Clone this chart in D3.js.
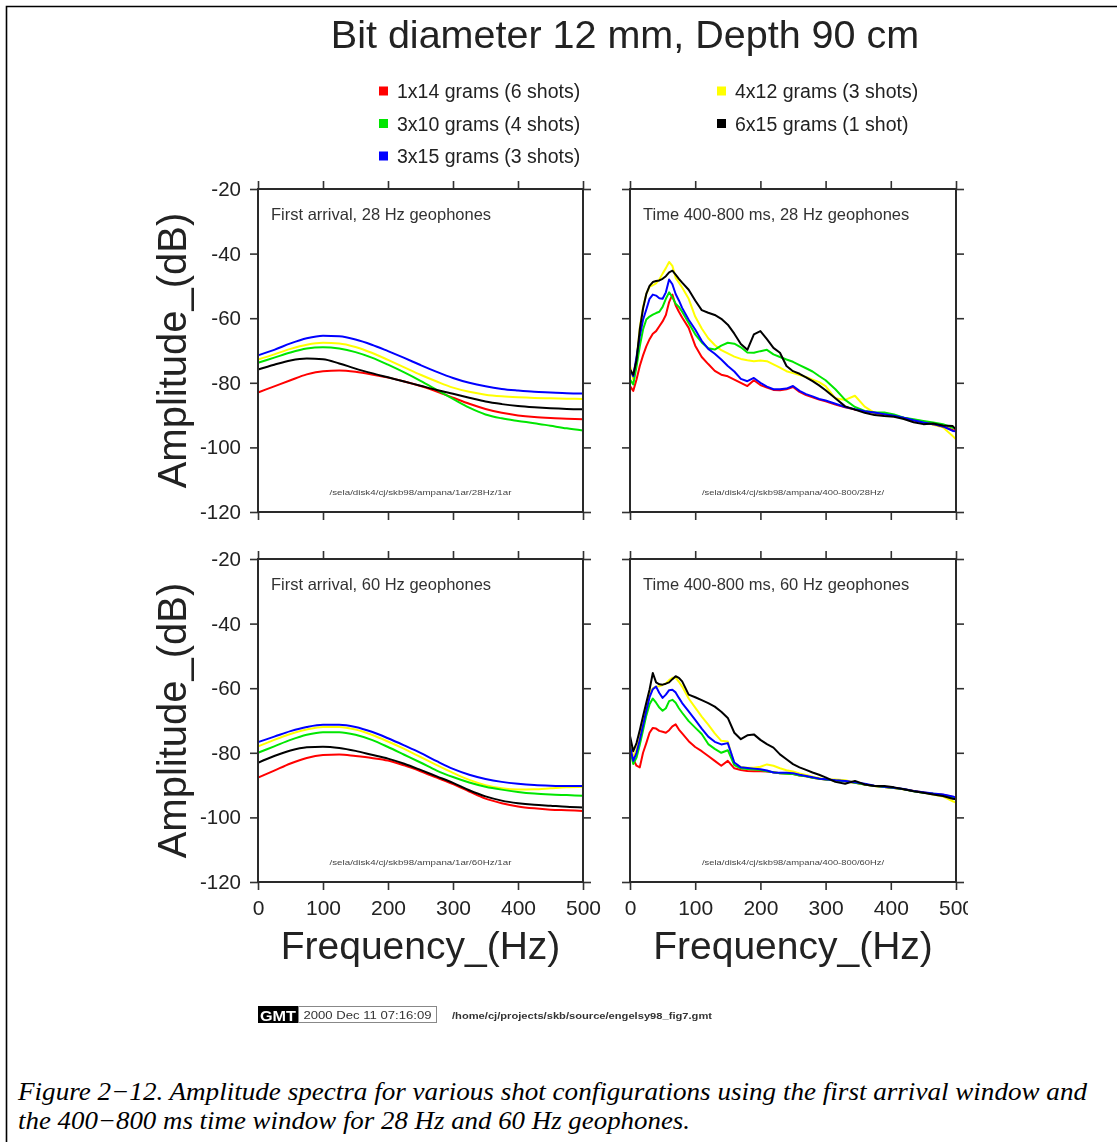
<!DOCTYPE html>
<html>
<head>
<meta charset="utf-8">
<script src="https://cdn.jsdelivr.net/npm/d3@7"></script>
<style>
  html, body { margin: 0; padding: 0; background: #fff; }
  svg { display: block; }
</style>
</head>
<body>
<script>
// ---- Data ---------------------------------------------------------------
const chartTitle = "Bit diameter 12 mm, Depth 90 cm";
const seriesLabels = ["1x14 grams (6 shots)", "3x10 grams (4 shots)", "3x15 grams (3 shots)", "4x12 grams (3 shots)", "6x15 grams (1 shot)"];
const seriesColors = ["#ff0000", "#00e600", "#0000ff", "#ffff00", "#000000"];

const xTicks = [0, 100, 200, 300, 400, 500];
const yTicks = [-120, -100, -80, -60, -40, -20];

const panelTitles = ["First arrival, 28 Hz geophones", "Time 400-800 ms, 28 Hz geophones",
                     "First arrival, 60 Hz geophones", "Time 400-800 ms, 60 Hz geophones"];
const panelPaths = ["/sela/disk4/cj/skb98/ampana/1ar/28Hz/1ar", "/sela/disk4/cj/skb98/ampana/400-800/28Hz/",
                    "/sela/disk4/cj/skb98/ampana/1ar/60Hz/1ar", "/sela/disk4/cj/skb98/ampana/400-800/60Hz/"];

// First-arrival window: smooth spectra sampled every 25 Hz
const smoothFreq = [0, 25, 50, 75, 100, 125, 150, 175, 200, 225, 250, 275, 300, 325, 350, 375, 400, 425, 450, 475, 500];

const fa28_1x14 = [-83.0, -81.1, -79.2, -77.4, -76.4, -76.2, -76.6, -77.4, -78.4, -79.6, -81.0, -82.7, -84.6, -86.5, -88.1, -89.3, -90.1, -90.6, -90.9, -91.1, -91.3];
const fa28_3x10 = [-73.8, -72.2, -70.6, -69.4, -69.0, -69.4, -70.5, -72.2, -74.4, -76.8, -79.4, -82.2, -85.0, -87.7, -89.8, -91.0, -91.8, -92.5, -93.3, -94.1, -94.8];
const fa28_3x15 = [-71.5, -69.8, -67.8, -66.2, -65.4, -65.6, -66.6, -68.2, -70.2, -72.3, -74.5, -76.6, -78.5, -80.0, -81.1, -81.9, -82.4, -82.8, -83.0, -83.2, -83.3];
const fa28_4x12 = [-72.8, -71.2, -69.5, -68.2, -67.6, -67.8, -68.9, -70.7, -72.9, -75.2, -77.5, -79.6, -81.5, -82.8, -83.7, -84.2, -84.5, -84.7, -84.8, -84.9, -85.0];
const fa28_6x15 = [-75.9, -74.4, -73.1, -72.5, -72.7, -74.0, -75.6, -77.0, -78.3, -79.6, -80.9, -82.2, -83.4, -84.6, -85.8, -86.6, -87.2, -87.6, -87.9, -88.1, -88.2];

const fa60_1x14 = [-87.7, -85.5, -83.3, -81.6, -80.7, -80.5, -81.0, -81.6, -82.4, -83.9, -85.7, -87.7, -89.7, -92.0, -94.2, -95.6, -96.6, -97.2, -97.6, -97.8, -98.0];
const fa60_3x10 = [-80.0, -78.0, -76.0, -74.4, -73.6, -73.6, -74.4, -76.0, -78.2, -80.6, -83.0, -85.5, -87.5, -89.2, -90.5, -91.4, -92.1, -92.6, -92.9, -93.1, -93.3];
const fa60_3x15 = [-76.7, -75.0, -73.3, -72.0, -71.3, -71.3, -72.0, -73.5, -75.5, -77.7, -80.0, -82.6, -85.0, -86.8, -88.1, -89.0, -89.6, -90.0, -90.2, -90.3, -90.3];
const fa60_4x12 = [-78.0, -76.0, -74.2, -72.8, -72.0, -72.0, -72.8, -74.4, -76.5, -78.8, -81.3, -83.8, -86.2, -88.4, -90.0, -91.0, -91.4, -91.3, -91.0, -90.7, -90.5];
const fa60_6x15 = [-83.1, -81.0, -79.3, -78.3, -78.1, -78.5, -79.4, -80.6, -81.8, -83.4, -85.3, -87.3, -89.3, -91.6, -93.5, -94.8, -95.6, -96.1, -96.4, -96.7, -96.9];

// 400-800 ms window: raw spectra, denser sampling at low frequency
const rawFreq = [0, 5, 10, 15, 20, 25, 30, 35, 40, 45, 50, 55, 60, 65, 70, 75, 80,
                 90, 100, 110, 120, 130, 140, 150, 160, 170, 180, 190, 200, 210, 220, 230, 240, 250, 260, 270, 280, 290, 300,
                 315, 330, 345, 360, 375, 390, 405, 420, 435, 450, 465, 480, 495, 500];

const tw28_1x14 = [-81, -82.5, -79, -74.8, -71.5, -68.7, -66.5, -64.8, -64, -62.5, -61, -59, -55, -52.7, -56, -58, -59.8,
                   -63, -68.5, -72, -74.2, -76.3, -77.5, -78, -79, -80, -81, -79.2, -80.7, -81.5, -82.2, -82.3, -82, -81.3, -82.8, -83.8, -84.5, -85.2, -85.7,
                   -86.7, -87.6, -88.3, -88.9, -89.3, -89.8, -90.3, -90.9, -91.6, -92.3, -92.8, -93.5, -94.6, -94.8];
const tw28_3x10 = [-79, -80.5, -75, -68.7, -63.5, -60.4, -59.5, -58.9, -58.4, -58, -56.5, -54, -52, -53.5, -55.5, -56.5, -58,
                   -61.5, -65, -67.5, -69.3, -69.7, -68.5, -67.6, -67.9, -69, -70.6, -70.7, -70.2, -69.8, -71.2, -72, -72.8, -73.5, -74.5, -75.5, -76.5, -77.9, -79.2,
                   -82, -85.3, -87.5, -88.7, -89.2, -89.2, -89.8, -90.8, -91.3, -91.8, -92.3, -92.8, -93.9, -94];
const tw28_3x15 = [-75.9, -78, -72, -65.6, -60.5, -57.3, -54, -52.7, -53, -53.8, -54, -52, -48, -49.5, -52.5, -54.5, -56.8,
                   -60.5, -63.5, -67, -69.5, -71, -72.8, -74.8, -76.5, -78.8, -79.5, -78.5, -80, -81.2, -82, -82, -81.8, -81, -82.5, -83.5, -84.2, -85, -85.5,
                   -86.5, -87.5, -88.2, -88.8, -89.2, -89.7, -90.2, -90.8, -91.6, -92.3, -92.8, -93.5, -94.9, -95];
const tw28_4x12 = [-74.8, -79, -73, -63, -56.5, -52.5, -50.2, -49.8, -49.2, -48, -46.2, -44.5, -42.6, -43.8, -47.5, -49, -50.5,
                   -54, -59.5, -63.2, -66.2, -68.3, -69.9, -70.9, -71.9, -72.6, -73, -73.3, -73.1, -73.3, -74.3, -75.3, -76.4, -77, -77.6, -78.2, -79, -79.8, -81,
                   -84.8, -85.3, -84, -87.4, -89.3, -89.8, -90.3, -90.8, -91.4, -92, -93, -93.8, -96.5, -97.5];
const tw28_6x15 = [-75.9, -77.5, -73, -63.5, -57, -52.5, -50, -48.8, -48.5, -48.3, -47.8, -47, -45.8, -45.3, -46.5, -47.8, -49,
                   -51.2, -54.5, -57.5, -58.3, -59, -60.2, -62, -64.8, -68, -69.8, -65, -64, -66.5, -69.2, -70.7, -74.8, -76.4, -77.2, -78.3, -79.5, -80.8, -82.3,
                   -84.8, -87.3, -88.3, -89.3, -90, -90.3, -90.5, -91.2, -92.2, -92.8, -92.6, -93.2, -93.4, -94.5];

const tw60_1x14 = [-80, -82, -84, -84.5, -80, -77, -73.8, -72.3, -72.5, -73.2, -73.5, -73.8, -73, -71.8, -71.2, -72.8, -74,
                   -76.4, -78.2, -79.5, -81, -82.5, -84, -82.5, -84.8, -85.3, -85.6, -85.7, -85.7, -85.8, -86, -86.3, -86.4, -86.6, -87, -87.3, -87.7, -88, -88.3,
                   -88.6, -88.8, -89.3, -89.8, -90.3, -90.6, -90.9, -91.3, -91.8, -92.3, -92.7, -93, -93.7, -94];
const tw60_3x10 = [-79, -83.5, -81.5, -77.5, -73, -68.5, -65, -63.2, -64.5, -66, -67, -66.2, -64, -63.6, -64.5, -66.2, -67.6,
                   -70.2, -72.2, -74.2, -77.3, -78.8, -80, -79.2, -83.8, -84.8, -85, -85.2, -85.3, -85.7, -86, -86.3, -86.5, -86.6, -87, -87.3, -87.7, -88, -88.3,
                   -88.6, -88.8, -89.3, -89.8, -90.3, -90.6, -90.9, -91.3, -91.9, -92.4, -92.7, -93.1, -93.8, -94.1];
const tw60_3x15 = [-77.9, -82.5, -80, -76, -71.5, -67, -62.8, -60.3, -59.5, -61.5, -63, -62, -60.6, -60.5, -61.3, -63, -64.6,
                   -67.2, -69.8, -72.5, -75, -76.6, -77.4, -77, -83, -84.5, -84.7, -84.9, -85.1, -85.5, -86.1, -86.2, -86.2, -86.3, -86.8, -87.2, -87.6, -88, -88.2,
                   -88.5, -88.7, -89.1, -89.6, -90.2, -90.5, -90.8, -91.2, -91.8, -92.2, -92.6, -92.9, -93.5, -94];
const tw60_4x12 = [-76.9, -81.5, -79, -75, -70, -65.5, -61.5, -60, -59.5, -59.4, -59, -58.5, -57.5, -56.8, -56.8, -58, -59.5,
                   -63.2, -66, -68.8, -71.3, -74, -76.3, -76.5, -83.5, -84.4, -84.6, -84.6, -84.3, -83.6, -84, -84.8, -85.4, -85.8, -86.4, -86.9, -87.4, -87.9, -88.2,
                   -88.3, -88.5, -89.2, -89.8, -90.3, -90.6, -90.9, -91.3, -91.8, -92.3, -92.9, -93.5, -95, -95.4];
const tw60_6x15 = [-74.8, -79.5, -77, -73, -68.7, -64.5, -60.4, -55.3, -58.2, -58.8, -58.9, -58.6, -58.2, -57.2, -56.3, -56.8, -57.9,
                   -62, -62.8, -63.7, -64.6, -65.7, -67.3, -69.2, -73.8, -75.8, -74.6, -74.3, -76, -77.3, -78.4, -80.5, -82, -83.5, -84.5, -85.3, -86.1, -86.8, -87.6,
                   -89, -89.6, -88.7, -89.8, -90.3, -90.3, -90.7, -91.3, -91.9, -92.4, -92.9, -93.4, -94.2, -94.4];

const captionLines = [
  "Figure 2\u221212. Amplitude spectra for various shot configurations using the first arrival window and",
  "the 400\u2212800 ms time window for 28 Hz and 60 Hz geophones."
];
const stampDate = "2000 Dec 11 07:16:09";
const stampPath = "/home/cj/projects/skb/source/engelsy98_fig7.gmt";

// ---- Layout -------------------------------------------------------------
const W = 1117, H = 1142;
const colX = [[258, 583], [630, 956]];
const rowY = [[189, 512], [559, 882]];
const panels = [
  { col: 0, row: 0, freq: smoothFreq, series: [fa28_1x14, fa28_3x10, fa28_3x15, fa28_4x12, fa28_6x15], smooth: true },
  { col: 1, row: 0, freq: rawFreq,    series: [tw28_1x14, tw28_3x10, tw28_3x15, tw28_4x12, tw28_6x15], smooth: false },
  { col: 0, row: 1, freq: smoothFreq, series: [fa60_1x14, fa60_3x10, fa60_3x15, fa60_4x12, fa60_6x15], smooth: true },
  { col: 1, row: 1, freq: rawFreq,    series: [tw60_1x14, tw60_3x10, tw60_3x15, tw60_4x12, tw60_6x15], smooth: false }
];
const drawOrder = [3, 0, 1, 2, 4];
const sans = "'Liberation Sans', Arial, Helvetica, sans-serif";
const ink = "#222";
const plainInt = d => String(d);   // hyphen-minus, as GMT prints it

const svg = d3.select("body").append("svg")
  .attr("width", W).attr("height", H)
  .attr("viewBox", `0 0 ${W} ${H}`);

svg.append("rect").attr("width", W).attr("height", H).attr("fill", "#fff");

const defs = svg.append("defs");
defs.append("filter").attr("id", "soft")
  .attr("filterUnits", "userSpaceOnUse")
  .attr("x", 0).attr("y", 0).attr("width", W).attr("height", H)
  .append("feGaussianBlur").attr("stdDeviation", 0.6);
defs.append("clipPath").attr("id", "figClip")
  .append("rect").attr("x", 0).attr("y", 0).attr("width", 968).attr("height", H);

// page frame (top and left rules)
svg.append("path")
  .attr("d", `M6.5,${H} V6.5 H${W}`)
  .attr("fill", "none").attr("stroke", "#000").attr("stroke-width", 1.6);

const fig = svg.append("g")
  .attr("clip-path", "url(#figClip)")
  .append("g")
  .attr("filter", "url(#soft)");

// title
fig.append("text")
  .attr("x", 625).attr("y", 48)
  .attr("text-anchor", "middle")
  .attr("font-family", sans).attr("font-size", 39.5)
  .attr("fill", ink)
  .text(chartTitle);

// legend
const legendPos = [[379, 91], [379, 123.5], [379, 156], [717, 91], [717, 123.5]];
seriesLabels.forEach((lab, i) => {
  const [lx, ly] = legendPos[i];
  fig.append("rect")
    .attr("x", lx).attr("y", ly - 4.5).attr("width", 9).attr("height", 9)
    .attr("fill", seriesColors[i]);
  fig.append("text")
    .attr("x", lx + 18).attr("y", ly + 7)
    .attr("font-family", sans).attr("font-size", 19.5)
    .attr("fill", ink)
    .text(lab);
});

// panels
panels.forEach((p, pi) => {
  const [x0, x1] = colX[p.col];
  const [y0, y1] = rowY[p.row];
  const x = d3.scaleLinear().domain([0, 500]).range([x0, x1]);
  const y = d3.scaleLinear().domain([-120, -20]).range([y1, y0]);
  const g = fig.append("g");

  const styleAxis = sel => {
    sel.select(".domain").remove();
    sel.selectAll(".tick line").attr("stroke", "#333").attr("stroke-width", 1.6);
    sel.selectAll(".tick text").attr("fill", ink);
  };

  const showX = p.row === 1;
  const showY = p.col === 0;

  g.append("g").attr("transform", `translate(0,${y1})`)
    .call(d3.axisBottom(x).tickValues(xTicks).tickSize(8).tickSizeOuter(0).tickPadding(10)
      .tickFormat(showX ? plainInt : () => ""))
    .call(styleAxis)
    .call(s => s.selectAll("text").attr("font-family", sans).attr("font-size", 21));
  g.append("g").attr("transform", `translate(0,${y0})`)
    .call(d3.axisTop(x).tickValues(xTicks).tickSize(8).tickSizeOuter(0).tickFormat(() => ""))
    .call(styleAxis);
  g.append("g").attr("transform", `translate(${x0},0)`)
    .call(d3.axisLeft(y).tickValues(yTicks).tickSize(8).tickSizeOuter(0).tickPadding(9)
      .tickFormat(showY ? plainInt : () => ""))
    .call(styleAxis)
    .call(s => s.selectAll("text").attr("font-family", sans).attr("font-size", 20.5));
  g.append("g").attr("transform", `translate(${x1},0)`)
    .call(d3.axisRight(y).tickValues(yTicks).tickSize(8).tickSizeOuter(0).tickFormat(() => ""))
    .call(styleAxis);

  // spectra
  const line = d3.line()
    .x((d, i) => x(p.freq[i]))
    .y(d => y(d))
    .curve(p.smooth ? d3.curveMonotoneX : d3.curveLinear);
  drawOrder.forEach(si => {
    g.append("path")
      .datum(p.series[si])
      .attr("d", line)
      .attr("fill", "none")
      .attr("stroke", seriesColors[si])
      .attr("stroke-width", 2)
      .attr("stroke-linejoin", "round");
  });

  // frame
  g.append("rect")
    .attr("x", x0).attr("y", y0)
    .attr("width", x1 - x0).attr("height", y1 - y0)
    .attr("fill", "none").attr("stroke", "#2a2a2a").attr("stroke-width", 2);

  // panel heading
  g.append("text")
    .attr("x", x0 + 13).attr("y", y0 + 31)
    .attr("font-family", sans).attr("font-size", 16.5)
    .attr("fill", "#333")
    .text(panelTitles[pi]);

  // source path
  g.append("text")
    .attr("x", (x0 + x1) / 2).attr("y", y1 - 17)
    .attr("text-anchor", "middle")
    .attr("font-family", sans).attr("font-size", 7)
    .attr("fill", "#444")
    .attr("textLength", 182).attr("lengthAdjust", "spacingAndGlyphs")
    .text(panelPaths[pi]);
});

// axis titles
rowY.forEach(([y0, y1]) => {
  fig.append("text")
    .attr("transform", `translate(186,${(y0 + y1) / 2}) rotate(-90)`)
    .attr("text-anchor", "middle")
    .attr("font-family", sans).attr("font-size", 40)
    .attr("fill", ink)
    .text("Amplitude_(dB)");
});
colX.forEach(([x0, x1]) => {
  fig.append("text")
    .attr("x", (x0 + x1) / 2).attr("y", 959)
    .attr("text-anchor", "middle")
    .attr("font-family", sans).attr("font-size", 39)
    .attr("fill", ink)
    .text("Frequency_(Hz)");
});

// GMT time stamp
const stamp = fig.append("g");
stamp.append("rect").attr("x", 258).attr("y", 1006).attr("width", 40).attr("height", 17).attr("fill", "#000");
stamp.append("text").attr("x", 278).attr("y", 1020.5).attr("text-anchor", "middle")
  .attr("font-family", sans).attr("font-weight", "bold").attr("font-size", 15).attr("fill", "#fff")
  .attr("textLength", 36).attr("lengthAdjust", "spacingAndGlyphs")
  .text("GMT");
stamp.append("rect").attr("x", 298.5).attr("y", 1006.5).attr("width", 138).attr("height", 16)
  .attr("fill", "#fff").attr("stroke", "#888").attr("stroke-width", 1);
stamp.append("text").attr("x", 367.5).attr("y", 1019)
  .attr("text-anchor", "middle")
  .attr("font-family", sans).attr("font-size", 11.5).attr("fill", "#333")
  .attr("textLength", 128).attr("lengthAdjust", "spacingAndGlyphs")
  .text(stampDate);
stamp.append("text").attr("x", 452).attr("y", 1018.5)
  .attr("font-family", sans).attr("font-weight", "bold").attr("font-size", 9).attr("fill", "#333")
  .attr("textLength", 260).attr("lengthAdjust", "spacingAndGlyphs")
  .text(stampPath);

// caption
const captionWidths = [1069, 672];
captionLines.forEach((t, i) => {
  svg.append("text")
    .attr("x", 18).attr("y", 1100 + i * 28.5)
    .attr("font-family", "'Liberation Serif', 'Times New Roman', serif")
    .attr("font-style", "italic")
    .attr("font-size", 25)
    .attr("fill", "#000")
    .attr("textLength", captionWidths[i]).attr("lengthAdjust", "spacingAndGlyphs")
    .text(t);
});
</script>
</body>
</html>
